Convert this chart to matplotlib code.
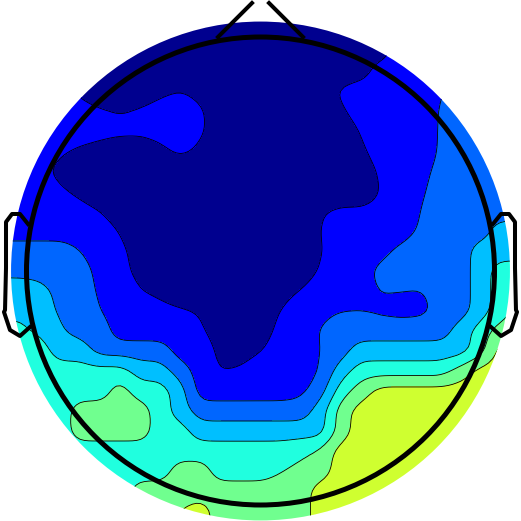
import numpy as np
import matplotlib
matplotlib.use("Agg")
import matplotlib.pyplot as plt
from matplotlib.patches import Circle

# colour band (0 = lowest) on a 27 x 27 grid, top row first
band_rows = [
    "000000000000000000000111111",
    "100000000000000000001111111",
    "110000000000000000001111111",
    "111000000000000000011111222",
    "111100000000000001111112222",
    "111111011110000000111122222",
    "111111111110000000111122222",
    "111100000100000000011122222",
    "111000000000000000011122222",
    "111100000000000000011122222",
    "111110000000000001111222222",
    "111111000000000001111222233",
    "222221100000000001112222333",
    "222221100000000011122222344",
    "333221110000000111122122344",
    "333221111100001111111122345",
    "443322111110001122222223455",
    "444332222110001122333333466",
    "444444433211111123444445666",
    "444444544311111124566666666",
    "444455554322222235666666666",
    "444455554433333335666666666",
    "444444444444444456666666666",
    "444444444554444556666666666",
    "444444455555555566666666666",
    "444444455565555566666666666",
    "444445555555555566666666666",
]

# finer readings where a node sits close to a band edge: (row, col): value
edge_values = {
    (4, 3): 0.8, (4, 4): 0.35, (4, 8): 0.32, (4, 9): 0.5, (4, 10): 0.25,
    (4, 16): 0.12, (4, 17): 0.61, (4, 22): 1.42,
    (5, 4): 0.77, (5, 5): 0.6, (5, 6): 0.45, (5, 7): 0.62, (5, 8): 0.82,
    (5, 10): 0.6, (5, 11): 0.12, (5, 17): 0.37, (5, 18): 0.85,
    (5, 21): 1.06, (5, 22): 1.56,
    (6, 4): 0.87, (6, 5): 0.75, (6, 6): 0.72, (6, 7): 0.7, (6, 8): 0.8,
    (6, 10): 0.61, (6, 11): 0.12, (6, 17): 0.05, (6, 18): 0.54,
    (6, 22): 1.6,
    (7, 3): 0.6, (7, 4): 0.37, (7, 5): 0.22, (7, 8): 0.32, (7, 9): 0.68,
    (7, 10): 0.35, (7, 18): 0.35, (7, 19): 0.83, (7, 22): 1.62,
    (8, 2): 0.7, (8, 3): 0.25, (8, 18): 0.12, (8, 19): 0.6,
    (8, 21): 1.24, (8, 22): 1.74,
    (9, 3): 0.6, (9, 4): 0.3, (9, 17): 0.1, (9, 18): 0.1, (9, 19): 0.5,
    (9, 21): 1.36, (9, 22): 1.86,
    (10, 4): 0.75, (10, 5): 0.5, (10, 16): 0.45, (10, 17): 0.6,
    (10, 18): 0.6, (10, 19): 0.7, (10, 21): 1.5,
    (11, 5): 0.93, (11, 6): 0.44, (11, 16): 0.5, (11, 20): 1.12,
    (11, 21): 1.61,
    (12, 4): 1.5, (12, 5): 1.12, (12, 6): 0.66, (12, 7): 0.18,
    (12, 16): 0.44, (12, 17): 0.93, (12, 19): 1.25, (12, 20): 1.7,
    (13, 0): 2.22, (13, 1): 2.22, (13, 2): 2.22, (13, 4): 1.79,
    (13, 5): 1.29, (13, 6): 0.74, (13, 7): 0.25, (13, 16): 0.59,
    (13, 18): 1.21, (13, 19): 1.71,
    (14, 2): 2.75, (14, 3): 2.28, (14, 4): 1.87, (14, 5): 1.37,
    (14, 7): 0.5, (14, 8): 0.3, (14, 14): 0.18, (14, 15): 0.52,
    (14, 18): 1.15, (14, 19): 1.55, (14, 20): 1.5, (14, 21): 1.42,
    (14, 22): 1.85,
    (15, 1): 3.35, (15, 2): 2.85, (15, 3): 2.37, (15, 5): 1.5,
    (15, 8): 0.75, (15, 9): 0.6, (15, 10): 0.45, (15, 13): 0.15,
    (15, 14): 0.5, (15, 16): 1.25, (15, 17): 1.48, (15, 18): 1.5,
    (15, 19): 1.32, (15, 20): 1.2, (15, 21): 1.27, (15, 22): 1.72,
    (16, 1): 3.67, (16, 2): 3.35, (16, 3): 2.56, (16, 4): 2.18,
    (16, 10): 0.61, (16, 11): 0.12, (16, 13): 0.2, (16, 14): 0.675,
    (16, 15): 1.06, (16, 16): 1.56,
    (17, 11): 0.28, (17, 12): 0.15, (17, 13): 0.45, (17, 14): 0.87,
    (17, 16): 1.5,
    (18, 11): 0.45, (18, 12): 0.6, (18, 16): 1.5,
    (19, 15): 1.22,
    (22, 15): 4.27, (22, 16): 4.7, (23, 14): 4.45, (23, 15): 4.75,
    (25, 9): 5.5, (26, 9): 6, (26, 10): 6,
}

band_colors = ["#00008f", "#0000ff", "#0066ff", "#00bfff",
               "#20ffdf", "#70ff8f", "#cfff30"]

# grid in head units (head radius 0.5)
xs = np.linspace(-260 / 468, 260 / 468, 27)
ys = xs[::-1]
z = np.array([[int(c) for c in row] for row in band_rows], dtype=float)
for (r, c), v in edge_values.items():
    z[r, c] = v

# finer grid for drawing: bilinear resampling plus a light blur
fx = np.linspace(xs[0], xs[-1], 131)
fy = fx[::-1]
tmp = np.array([np.interp(fx, xs, r) for r in z])
zf = np.array([np.interp(fy[::-1], ys[::-1], c[::-1])[::-1] for c in tmp.T]).T

k = np.arange(-6, 7)
kern = np.exp(-0.5 * (k / 1.6) ** 2)
kern /= kern.sum()
pad = np.pad(zf, 6, mode="edge")
pad = np.apply_along_axis(lambda v: np.convolve(v, kern, mode="valid"), 1, pad)
zs = np.apply_along_axis(lambda v: np.convolve(v, kern, mode="valid"), 0, pad)

fig = plt.figure(figsize=(5.21, 5.21), dpi=100)
ax = fig.add_axes([0, 0, 1, 1])

levels = [-10, 0.5, 1.5, 2.5, 3.5, 4.5, 5.5, 10]
cf = ax.contourf(fx, fy, zs, levels=levels, colors=band_colors)
cl = ax.contour(fx, fy, zs, levels=levels[1:-1], colors="k", linewidths=0.6)
clip = Circle((0, 0), 0.533, transform=ax.transData)
cf.set_clip_path(clip)
cl.set_clip_path(clip)

# head outline, nose and ears
ax.add_patch(Circle((0, 0), 0.5, fill=False, lw=3.6, color="k", zorder=5))
ax.plot([-0.0908, -0.0182], [0.5, 0.5726], color="k", lw=2.9, zorder=5)
ax.plot([0.0908, 0.0182], [0.5, 0.5726], color="k", lw=2.9, zorder=5)
ear_x = np.array([-0.4968, -0.5139, -0.5310, -0.5438, -0.5438, -0.5459,
                  -0.5481, -0.5353, -0.5139, -0.4925])
ear_y = np.array([0.1004, 0.1218, 0.1218, 0.1047, 0.0064, -0.0833,
                  -0.0876, -0.1261, -0.1389, -0.1197])
ax.plot(ear_x, ear_y, color="k", lw=2.9, zorder=5, solid_joinstyle="round")
ax.plot(-ear_x, ear_y, color="k", lw=2.9, zorder=5, solid_joinstyle="round")

ax.set_xlim(-260.5 / 468, 260.5 / 468)
ax.set_ylim((271 - 521) / 468, 271 / 468)
ax.set_aspect("equal")
ax.axis("off")

fig.savefig("out.png", dpi=100)
